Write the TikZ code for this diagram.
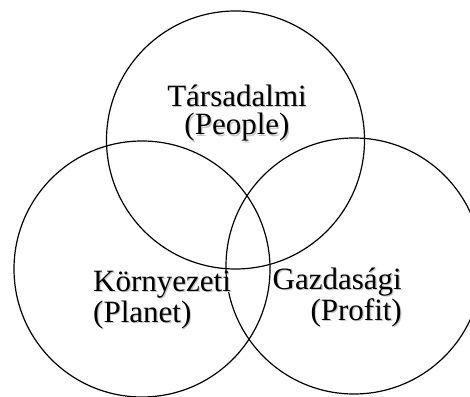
\documentclass[tikz,border=0pt]{standalone}
\usepackage{fontspec}
\setmainfont{Liberation Serif}
% soft grey copy behind each line of text
\newcommand{\ShadowLine}[1]{%
  \makebox[0pt][l]{\kern1.2pt\raisebox{-1.2pt}{\color{black!22}#1}}#1}

\begin{document}
\begin{tikzpicture}[x=1pt,y=1pt,
 ring/.style={draw=black,line width=1.2pt},
 pillar/.style={inner sep=0pt,font=\fontsize{31}{28.5}\selectfont}]

\useasboundingbox (0,0) rectangle (470,396);

\coordinate (People) at (235.5,256);
\coordinate (Planet) at (142,127);
\coordinate (Profit) at (354,130);
\draw[ring] (People) circle (129);
\draw[ring] (Planet) circle (128);
\draw[ring] (Profit) circle (128);

% the base anchor sits on the last line
\node[pillar,align=center,anchor=base] (social) at (237,261)
  {\ShadowLine{Társadalmi}\\\ShadowLine{(People)}};
\node[pillar,align=left,anchor=base west] (env) at (93,74)
  {\ShadowLine{Környezeti}\\\ShadowLine{(Planet)}};
\node[pillar,align=right,anchor=base east] (econ) at (402,76)
  {\ShadowLine{Gazdasági}\\\ShadowLine{(Profit)}};
\end{tikzpicture}
\end{document}
